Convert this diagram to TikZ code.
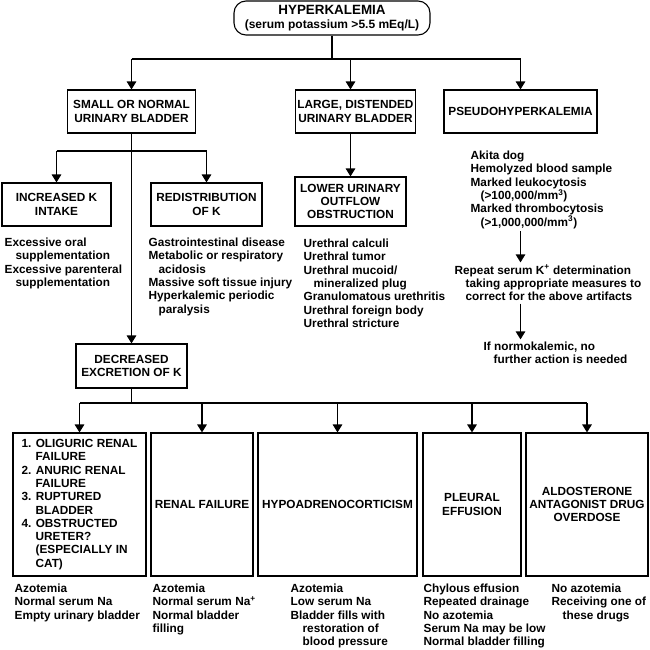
\documentclass[tikz,border=0pt]{standalone}
\usepackage{fontspec}
\setmainfont{Liberation Sans}
\usetikzlibrary{arrows.meta}
\newcommand{\txt}{\bfseries\fontsize{11.8}{13.3}\selectfont}
\newcommand{\indt}{\hspace*{11pt}}
\tikzset{
  dbox/.style 2 args={draw, line width=1.1pt, inner sep=2pt, align=center,
    font=\txt, minimum width=#1, minimum height=#2},
  list/.style={anchor=north west, align=left, inner xsep=0pt, inner ysep=2pt, font=\txt},
  arr/.style={-{Triangle[length=8pt,width=9.5pt]}}
}
\begin{document}
\begin{tikzpicture}[x=1pt, y=-1pt, line width=1.3pt]
\useasboundingbox (0,0) rectangle (650,650);

% Top
\node[dbox={196pt}{34pt}, rounded corners=12pt] (hyper) at (332,18)
  {{\fontsize{13.4}{15}\selectfont HYPERKALEMIA}\\[0.5pt]{\fontsize{12}{14}\selectfont (serum potassium >5.5 mEq/L)}};

% Second row
\node[dbox={128pt}{43pt}] (small) at (131.5,111.5) {SMALL OR NORMAL\\URINARY BLADDER};
\node[dbox={119pt}{43pt}] (large) at (355.5,111.5) {LARGE, DISTENDED\\URINARY BLADDER};
\node[dbox={153pt}{43pt}] (pseudo) at (520.5,111.5) {PSEUDOHYPERKALEMIA};

% Third row
\node[dbox={109pt}{43pt}] (incr) at (56.5,204.5) {INCREASED K\\INTAKE};
\node[dbox={111pt}{43pt}] (redis) at (206.5,204.5) {REDISTRIBUTION\\OF K};
\node[dbox={111pt}{49pt}] (lower) at (350.5,201.5) {LOWER URINARY\\OUTFLOW\\OBSTRUCTION};
\node[dbox={111pt}{44pt}] (decr) at (131.5,366) {DECREASED\\EXCRETION OF K};

% Lists
\node[list] (incrlist) at (4,235.4) {Excessive oral\\\indt supplementation\\Excessive parenteral\\\indt supplementation};
\node[list] (redislist) at (148,235.4) {Gastrointestinal disease\\Metabolic or respiratory\\\hspace*{10pt}acidosis\\Massive soft tissue injury\\Hyperkalemic periodic\\\hspace*{10pt}paralysis};
\node[list] (lowerlist) at (303,236.4) {Urethral calculi\\Urethral tumor\\Urethral mucoid/\\\hspace*{10pt}mineralized plug\\Granulomatous urethritis\\Urethral foreign body\\Urethral stricture};
\node[list] (plist) at (470,148.4) {Akita dog\\Hemolyzed blood sample\\Marked leukocytosis\\\hspace*{10pt}(>100,000/mm\textsuperscript{3})\\Marked thrombocytosis\\\hspace*{10pt}(>1,000,000/mm\textsuperscript{3})};
\node[list] (rep) at (454,262.4) {Repeat serum K\textsuperscript{+} determination\\\indt taking appropriate measures to\\\indt correct for the above artifacts};
\node[list] (normo) at (483,339.4) {If normokalemic, no\\\hspace*{10pt}further action is needed};

% Bottom row
\node[dbox={133pt}{143pt}, align=left] (oligo) at (79.5,504.5)
  {1. OLIGURIC RENAL\\\hspace*{14pt}FAILURE\\2. ANURIC RENAL\\\hspace*{14pt}FAILURE\\3. RUPTURED\\\hspace*{14pt}BLADDER\\4. OBSTRUCTED\\\hspace*{14pt}URETER?\\\hspace*{14pt}(ESPECIALLY IN\\\hspace*{14pt}CAT)};
\node[dbox={102pt}{143pt}] (renal) at (202,504.5) {RENAL FAILURE};
\node[dbox={159pt}{143pt}] (hypoad) at (337.5,504.5) {HYPOADRENOCORTICISM};
\node[dbox={98pt}{143pt}] (pleural) at (472,504.5) {PLEURAL\\EFFUSION};
\node[dbox={122pt}{143pt}] (aldo) at (587,504.5) {ALDOSTERONE\\ANTAGONIST DRUG\\OVERDOSE};

\node[list] (oligolist) at (14,581.4) {Azotemia\\Normal serum Na\\Empty urinary bladder};
\node[list] (renallist) at (152,581.4) {Azotemia\\Normal serum Na\textsuperscript{+}\\Normal bladder\\filling};
\node[list] (hypoadlist) at (290,581.4) {Azotemia\\Low serum Na\\Bladder fills with\\\hspace*{12pt}restoration of\\\hspace*{12pt}blood pressure};
\node[list] (pleurallist) at (423,581.4) {Chylous effusion\\Repeated drainage\\No azotemia\\Serum Na may be low\\Normal bladder filling};
\node[list] (aldolist) at (551,581.4) {No azotemia\\Receiving one of\\\indt these drugs};

% Connectors
\coordinate (topbus) at (0,59);
\coordinate (kbus) at (0,151);
\coordinate (dbus) at (0,403);
\draw (hyper.south) -- (hyper.south |- topbus);
\draw (small.north |- topbus) -- (pseudo.north |- topbus);
\draw[arr] (small.north |- topbus) -- (small.north);
\draw[arr] (lower.north |- topbus) -- (large.north -| lower.north);
\draw[arr] (pseudo.north |- topbus) -- (pseudo.north);
\draw[arr] (lower.north |- large.south) -- (lower.north);

\draw (incr.north |- kbus) -- (redis.north |- kbus);
\draw[arr] (incr.north |- kbus) -- (incr.north);
\draw[arr] (redis.north |- kbus) -- (redis.north);
\draw[arr] (small.south) -- (decr.north);

\draw[arr] (pseudo.south |- plist.south) -- (pseudo.south |- rep.north);
\draw[arr] (pseudo.south |- rep.south) -- (pseudo.south |- normo.north);

\draw (decr.south) -- (decr.south |- dbus);
\draw (oligo.north |- dbus) -- (aldo.north |- dbus);
\foreach \n in {oligo,renal,hypoad,pleural,aldo}
  \draw[arr] (\n.north |- dbus) -- (\n.north);
\end{tikzpicture}
\end{document}
